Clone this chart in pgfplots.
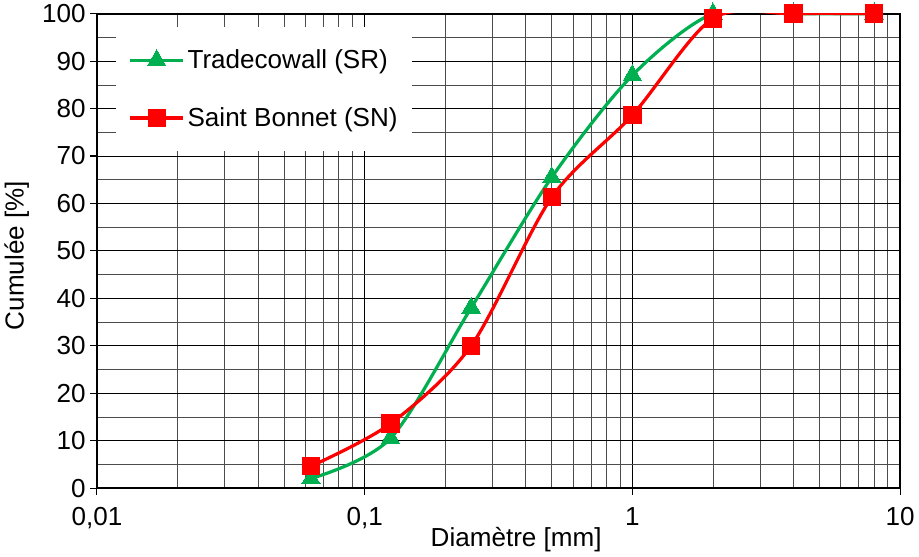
\documentclass[border=0pt]{standalone}
\usepackage{pgfplots}
\pgfplotsset{compat=1.18}
\usepackage{fontspec}
\setmainfont{Liberation Sans}
\definecolor{sgreen}{HTML}{00B050}
\definecolor{sred}{HTML}{FF0000}
\begin{document}
\begin{tikzpicture}
\begin{axis}[
  scale only axis,
  width=601pt, height=355pt,
  xmode=log,
  xmin=0.01, xmax=10,
  ymin=0, ymax=100,
  xtick={0.01,0.1,1,10},
  xticklabels={{0,01},{0,1},1,10},
  ytick={0,10,...,100},
  minor ytick={5,15,...,95},
  grid=both,
  major grid style={black, line width=0.6pt},
  minor grid style={black!70, line width=0.5pt},
  axis line style={black, line width=1.4pt},
  tick style={black, line width=0.8pt},
  major tick length=5pt,
  minor tick length=0pt,
  tick align=outside,
  xtick pos=bottom, ytick pos=left,
  /pgf/number format/assume math mode=true,
  tick label style={font=\fontsize{19.5}{22}\selectfont},
  xticklabel style={anchor=base, yshift=-23pt},
  label style={font=\fontsize{19.5}{22}\selectfont},
  xlabel={Diamètre [mm]},
  ylabel={Cumulée [\%]},
  xlabel style={at={(axis description cs:0.522,0)}, anchor=base, yshift=-44pt},
  ylabel style={at={(axis description cs:0,0.49)}, anchor=center, yshift=60pt},
  legend style={at={(0.024,0.972)}, anchor=north west, draw=none, fill=white,
    font=\fontsize{19.5}{22}\selectfont, row sep=23.5pt, inner xsep=9pt, inner ysep=15pt,
    /tikz/every even column/.append style={column sep=3pt}},
  legend cell align=left,
  legend image code/.code={\draw[mark repeat=2,mark phase=2] plot coordinates {(0cm,0cm) (0.7cm,0cm) (1.4cm,0cm)};},
]
\addplot[sgreen, line width=2.4pt, smooth, mark=triangle*, mark size=8pt,
  mark options={solid, fill=sgreen, line width=0pt}] coordinates {
  (0.063,2) (0.125,10.5) (0.25,38) (0.5,65.5) (1,87) (2,100) (4,100) (8,100)};
\addlegendentry{Tradecowall (SR)}
\addplot[sred, line width=2.4pt, smooth, mark=square*, mark size=6.5pt,
  mark options={solid, fill=sred, line width=0pt}] coordinates {
  (0.063,4.6) (0.125,13.6) (0.25,30) (0.5,61.3) (1,78.6) (2,99) (4,100) (8,100)};
\addlegendentry{Saint Bonnet (SN)}
\end{axis}
\end{tikzpicture}
\end{document}
